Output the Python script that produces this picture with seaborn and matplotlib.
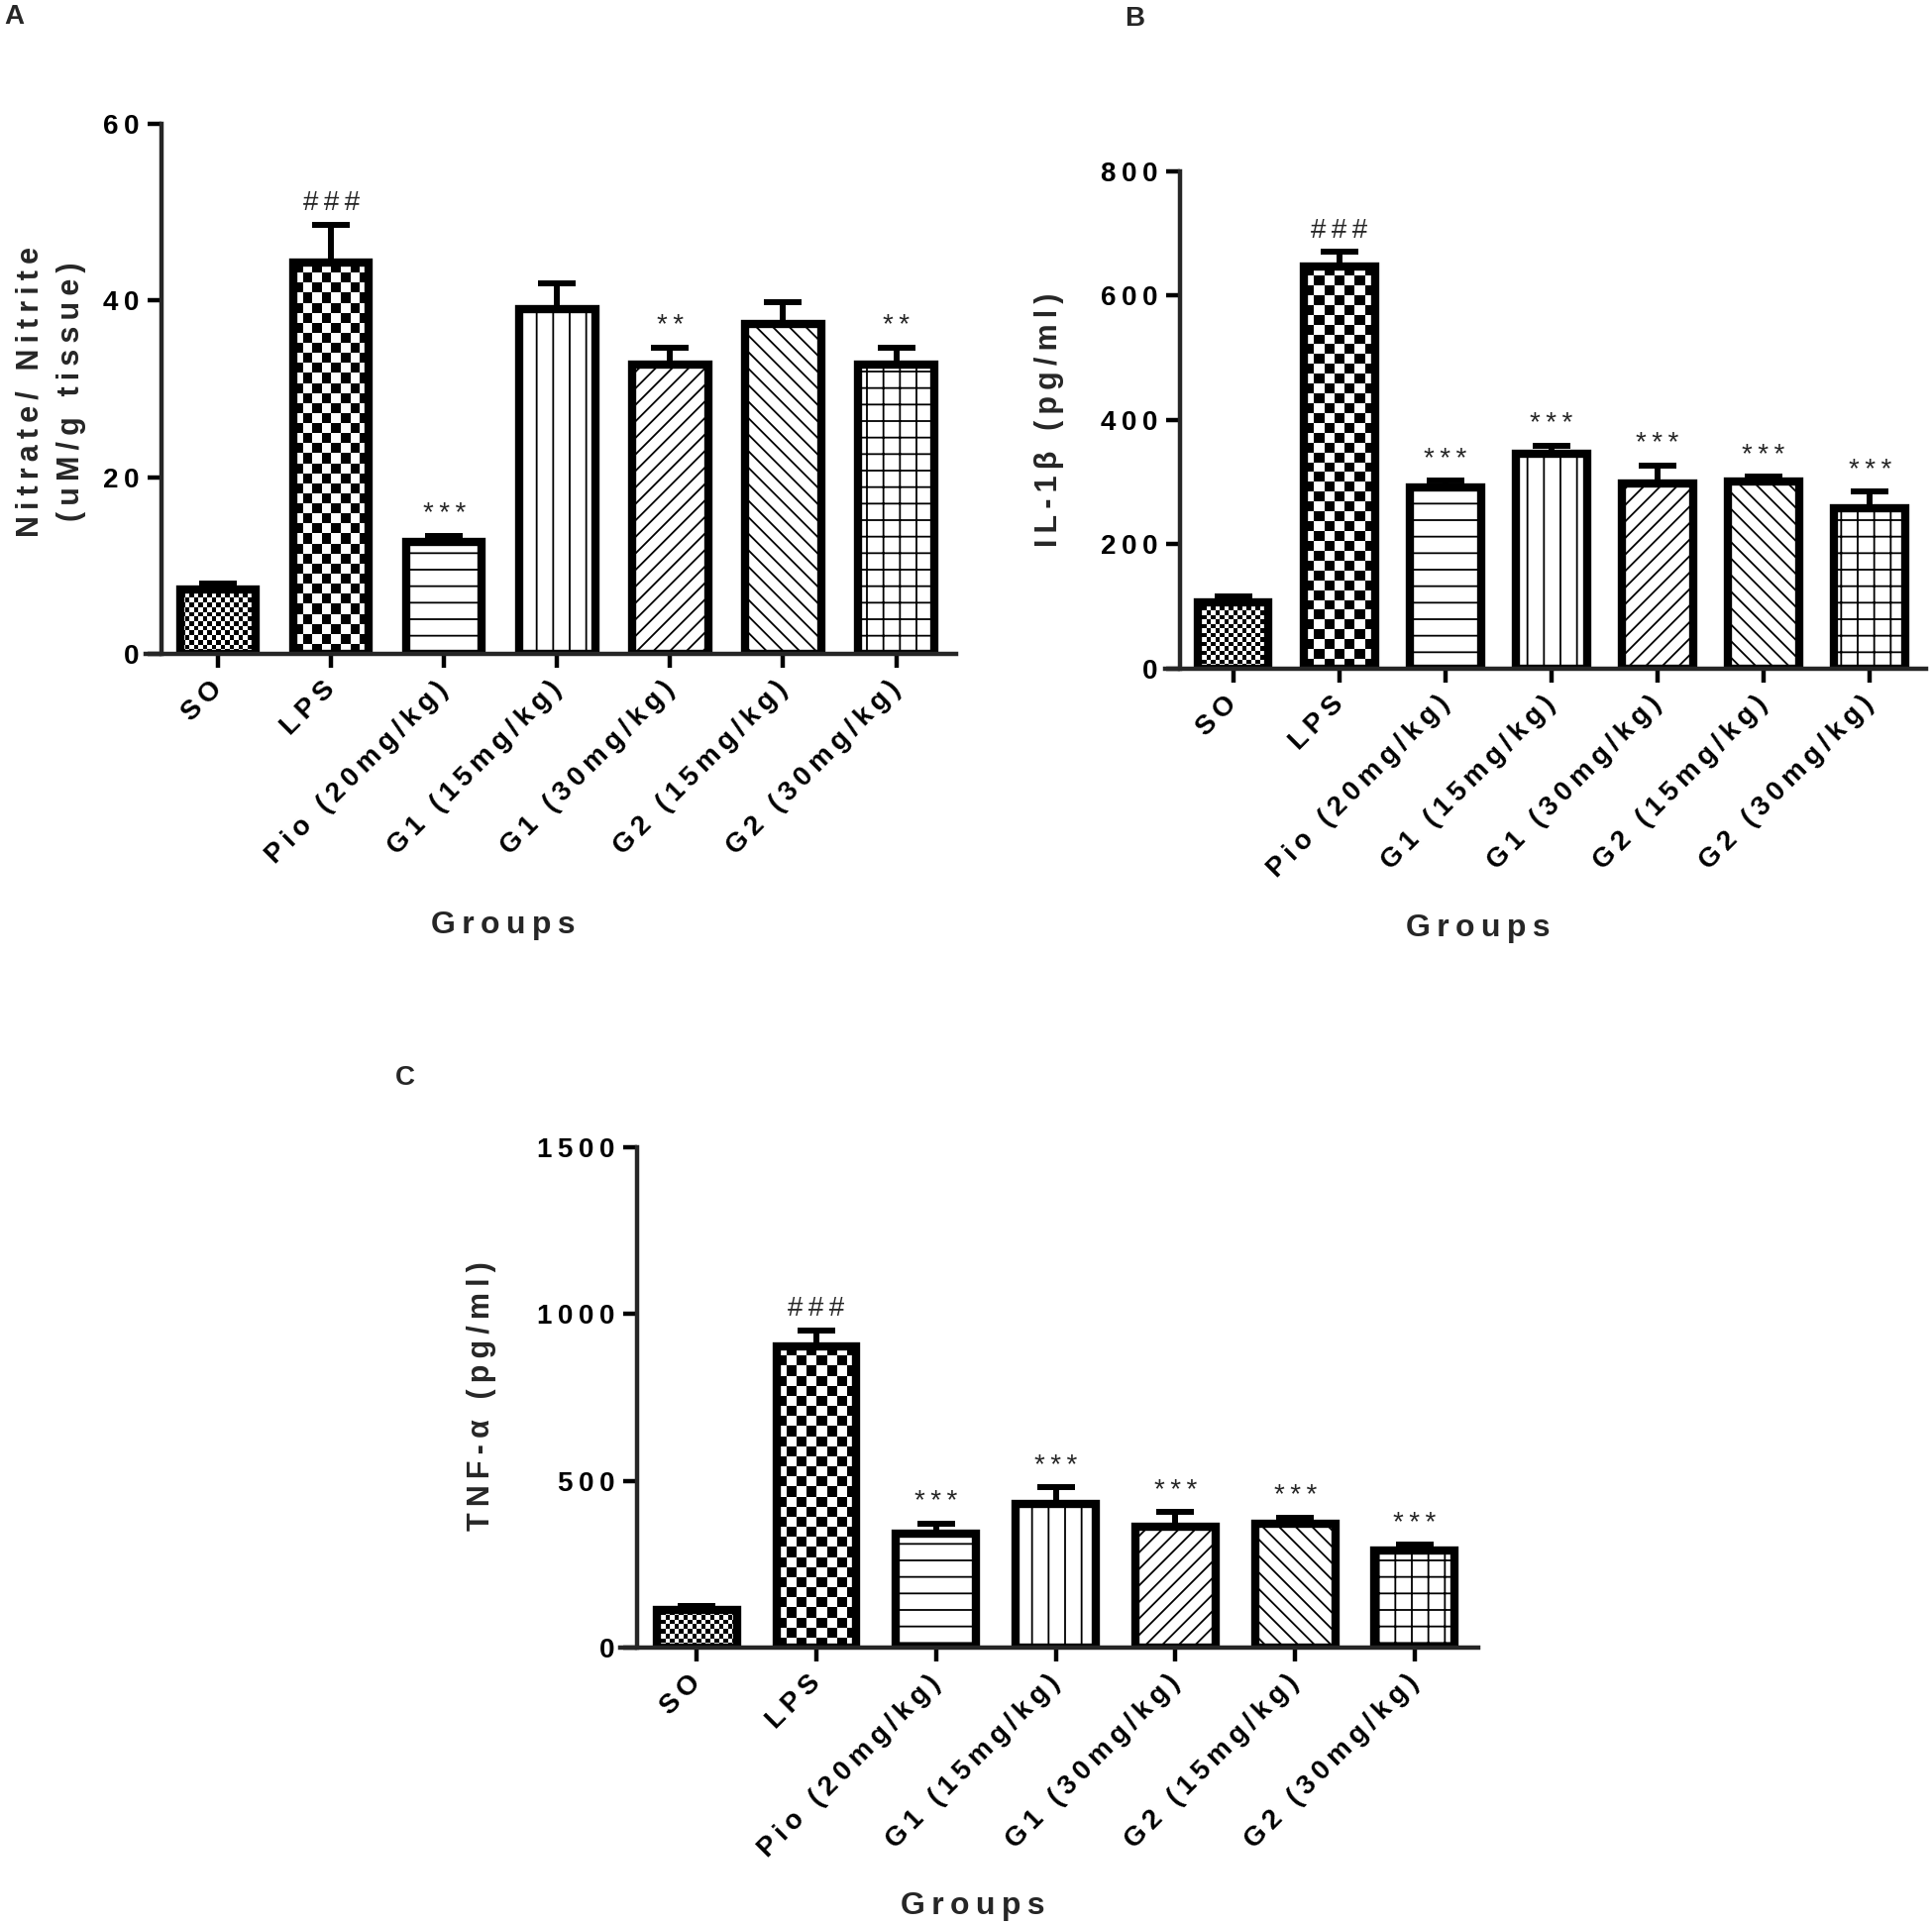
import numpy as np
import pandas as pd
import matplotlib
matplotlib.use('Agg')
import matplotlib.pyplot as plt
import seaborn as sns

# groups on the x axis (same for all three panels)
groups = ['SO', 'LPS', 'Pio (20mg/kg)', 'G1 (15mg/kg)', 'G1 (30mg/kg)',
          'G2 (15mg/kg)', 'G2 (30mg/kg)']

# A - nitrate/nitrite
nitrite_mean = [7.3, 44.3, 12.7, 39.0, 32.8, 37.4, 32.8]
nitrite_top = [8.0, 48.6, 13.4, 41.9, 34.7, 39.8, 34.7]
nitrite_marks = ['', '###', '***', '', '**', '', '**']
nitrite_ticks = [0, 20, 40, 60]

# B - IL-1beta
il1b_mean = [107, 647, 291, 346, 298, 301, 258]
il1b_top = [116, 671, 302, 359, 327, 309, 285]
il1b_marks = ['', '###', '***', '***', '***', '***', '***']
il1b_ticks = [0, 200, 400, 600, 800]

# C - TNF-alpha
tnf_mean = [112, 904, 342, 430, 361, 371, 290]
tnf_top = [124, 952, 372, 480, 406, 390, 308]
tnf_marks = ['', '###', '***', '***', '***', '***', '***']
tnf_ticks = [0, 500, 1000, 1500]

sns.set_style('ticks')
plt.rcParams['font.family'] = ['Liberation Sans', 'DejaVu Sans']
plt.rcParams['font.weight'] = 'bold'
plt.rcParams['axes.labelweight'] = 'bold'
plt.rcParams['hatch.linewidth'] = 1.3
plt.rcParams['hatch.color'] = 'black'

TS = '\u2009'


def spaced(s):
    # Prism style letter spacing
    return TS.join(s)


def checker(ax, patch, cell):
    bb = patch.get_window_extent()
    nx = max(1, int(round(bb.width / cell)))
    ny = max(1, int(round(bb.height / cell)))
    board = np.indices((ny, nx)).sum(axis=0) % 2
    x0, y0 = patch.get_x(), patch.get_y()
    w, h = patch.get_width(), patch.get_height()
    ax.imshow(board, cmap='gray', extent=(x0, x0 + w, y0, y0 + h), origin='lower',
              interpolation='nearest', aspect='auto', clip_path=patch, zorder=0.5)
    patch.set_facecolor('none')


def panel(ax, means, tops, marks, ticks, ylabel, xlab_xy, ylab_xy):
    df = pd.DataFrame({'group': groups, 'value': means})
    sns.barplot(data=df, x='group', y='value', ax=ax, color='white', saturation=1,
                edgecolor='black', linewidth=6, width=0.67, errorbar=None, zorder=2)
    ymax = ticks[-1]
    ax.set_xlim(-0.64, 6.53)
    ax.set_ylim(0, ymax)

    bars = ax.patches[:7]
    hatches = [None, None, '-', '|', '//', '\\\\', '+']
    for p, h in zip(bars, hatches):
        if h:
            p.set_hatch(h)
    checker(ax, bars[0], 4.5)
    checker(ax, bars[1], 10)

    x = np.arange(len(groups))
    up = np.array(tops) - np.array(means)
    ax.errorbar(x, means, yerr=[np.zeros(len(x)), up], fmt='none', ecolor='black',
                elinewidth=4.3, capsize=14, capthick=4.3, zorder=3)
    for i, m in enumerate(marks):
        if m:
            ax.annotate(spaced(m), (i, tops[i]), xytext=(0, 6), textcoords='offset points',
                        ha='center', va='bottom', fontsize=20, fontweight='normal')

    ax.set_xlim(-0.64, 6.53)
    ax.set_ylim(0, ymax)
    sns.despine(ax=ax)
    ax.spines['left'].set_position(('data', -0.5))
    ax.spines['left'].set_bounds(0, ymax)
    ax.spines['left'].set_linewidth(3.2)
    ax.spines['bottom'].set_linewidth(3.2)
    ax.tick_params(axis='both', length=10, width=3.2, direction='out', labelsize=20,
                   colors='black')
    ax.tick_params(axis='y', pad=6)
    ax.tick_params(axis='x', pad=13)
    ax.set_yticks(ticks, labels=[spaced(str(t)) for t in ticks])
    ax.set_xticks(x, labels=[spaced(g) for g in groups], rotation=45, ha='right',
                  va='center', rotation_mode='anchor')
    ax.set_xlabel(spaced('Groups'), fontsize=23)
    ax.xaxis.set_label_coords(*xlab_xy)
    ax.set_ylabel(ylabel, fontsize=22, linespacing=1.5)
    ax.yaxis.set_label_coords(*ylab_xy)


fig = plt.figure(figsize=(19.5, 19.43), dpi=100)

axA = fig.add_axes([0.0754, 0.6603, 0.4195, 0.2753])
panel(axA, nitrite_mean, nitrite_top, nitrite_marks, nitrite_ticks,
      spaced('Nitrate/ Nitrite') + '\n' + spaced('(uM/g tissue)'),
      (0.441, -0.484), (-0.073, 0.495))

axB = fig.add_axes([0.6031, 0.6526, 0.3938, 0.2584])
panel(axB, il1b_mean, il1b_top, il1b_marks, il1b_ticks,
      spaced('IL-1β (pg/ml)'), (0.411, -0.492), (-0.133, 0.5))

axC = fig.add_axes([0.3210, 0.1441, 0.4441, 0.2599])
panel(axC, tnf_mean, tnf_top, tnf_marks, tnf_ticks,
      spaced('TNF-α (pg/ml)'), (0.411, -0.487), (-0.144, 0.503))

fig.text(0.002, 0.998, 'A', fontsize=20, fontweight='bold', ha='left', va='top')
fig.text(1135 / 1950, 0.997, 'B', fontsize=20, fontweight='bold', ha='left', va='top')
fig.text(399 / 1950, 1 - 1075 / 1943, 'C', fontsize=20, fontweight='bold', ha='left', va='top')

fig.savefig('out.png', dpi=100)
